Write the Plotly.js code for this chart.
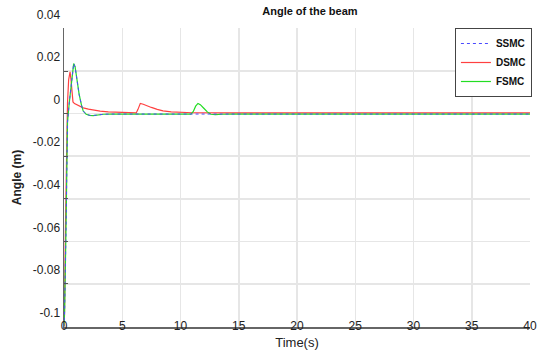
<!DOCTYPE html>
<html>
<head>
<meta charset="utf-8">
<script src="https://cdn.plot.ly/plotly-3.0.1.min.js"></script>
<style>html,body{margin:0;padding:0;background:#fff;}#chart{width:539px;height:355px;}</style>
</head>
<body>
<div id="chart"></div>
<script>
const seriesNames = ["SSMC", "DSMC", "FSMC"];

const tSSMC = [0, 0.05, 0.17, 0.3, 0.45, 0.57, 0.7, 0.83, 0.95, 1.1, 1.3, 1.5, 1.65, 1.9, 2.2, 2.5, 2.9, 3.4, 4, 10, 20, 30, 40];
const ySSMC = [-0.1, -0.093, -0.055, -0.004, 0.005, 0.012, 0.019, 0.0235, 0.022, 0.016, 0.009, 0.004, 0.0012, -0.0003, -0.0008, -0.0009, -0.0006, -0.0003, -0.0002, -0.0002, -0.0002, -0.0002, -0.0002];

const tDSMC = [0, 0.04, 0.12, 0.22, 0.3, 0.4, 0.52, 0.6, 0.7, 0.77, 0.9, 1.2, 1.65, 2.1, 2.5, 3.1, 3.8, 4.5, 5.5, 6.2, 6.35, 6.55, 6.8, 7.1, 7.5, 8.0, 8.5, 9.2, 10, 11, 15, 20, 25, 30, 35, 40];
const yDSMC = [-0.1, -0.095, -0.055, -0.015, 0.005, 0.016, 0.0196, 0.016, 0.009, 0.0055, 0.0047, 0.004, 0.0027, 0.0021, 0.0017, 0.0012, 0.0008, 0.0006, 0.0004, 0.0003, 0.002, 0.0048, 0.0044, 0.0037, 0.0029, 0.002, 0.0013, 0.0008, 0.0005, 0.0004, 0.0003, 0.0003, 0.0003, 0.0003, 0.0003, 0.0003];

const tFSMC = [0, 0.05, 0.17, 0.3, 0.45, 0.57, 0.7, 0.83, 0.95, 1.1, 1.3, 1.5, 1.65, 1.9, 2.2, 2.5, 2.9, 3.4, 4, 10.9, 11.1, 11.3, 11.5, 11.7, 12.0, 12.3, 12.6, 13.0, 13.6, 14.5, 20, 30, 40];
const yFSMC = [-0.1, -0.093, -0.055, -0.004, 0.005, 0.012, 0.019, 0.0235, 0.022, 0.016, 0.009, 0.004, 0.0012, -0.0003, -0.0008, -0.0009, -0.0006, -0.0003, -0.0002, -0.0002, 0.001, 0.0035, 0.0048, 0.0042, 0.0025, 0.0008, -0.0003, -0.0005, -0.0003, -0.0002, -0.0002, -0.0002, -0.0002];

const xTickVals = [0, 5, 10, 15, 20, 25, 30, 35, 40];
const xTickText = ["0", "5", "10", "15", "20", "25", "30", "35", "40"];
const yTickVals = [0.04, 0.02, 0, -0.02, -0.04, -0.06, -0.08, -0.1];
const yTickText = ["0.04", "0.02", "0", "-0.02", "-0.04", "-0.06", "-0.08", "-0.1"];

const traces = [
  {x: tDSMC, y: yDSMC, name: seriesNames[1], legendrank: 2, mode: "lines", line: {color: "#ff4040", width: 1.2}},
  {x: tFSMC, y: yFSMC, name: seriesNames[2], legendrank: 3, mode: "lines", line: {color: "#22dd22", width: 1.2}},
  {x: tSSMC, y: ySSMC, name: seriesNames[0], legendrank: 1, mode: "lines", line: {color: "#4a4aff", width: 1, dash: "3px,3px"}}
];

const layout = {
  width: 539, height: 355,
  margin: {l: 64, r: 8, t: 28, b: 28},
  paper_bgcolor: "#fff", plot_bgcolor: "#fff",
  font: {family: "Liberation Sans, Arial, sans-serif", color: "#222"},
  title: {text: "<b>Angle of the beam</b>", font: {size: 11, color: "#111"}, x: 0.575, xanchor: "center", xref: "container", y: 0.969, yanchor: "middle", yref: "container"},
  showlegend: true,
  legend: {
    x: 1.002, xanchor: "right", y: 1, yanchor: "top",
    bgcolor: "#fff", bordercolor: "#444", borderwidth: 1,
    font: {size: 10, color: "#111", weight: "bold"},
    itemwidth: 30, tracegroupgap: 0
  },
  xaxis: {
    range: [0, 40], tickvals: xTickVals, ticktext: xTickText,
    showgrid: true, gridcolor: "#e6e6e6", gridwidth: 1.5,
    showline: true, linecolor: "#666", linewidth: 1.5,
    zeroline: false, ticks: "", ticklabelstandoff: -13,
    tickfont: {size: 12, color: "#222"},
    title: {text: "Time(s)", font: {size: 13, color: "#222"}, standoff: 6}
  },
  yaxis: {
    range: [-0.1002, 0.0402], tickvals: yTickVals, ticktext: yTickText,
    showgrid: true, gridcolor: "#e6e6e6", gridwidth: 1.5,
    showline: true, linecolor: "#666", linewidth: 1.5,
    zeroline: false, ticks: "inside", ticklen: 4, tickcolor: "#555",
    ticklabelshift: -14,
    tickfont: {size: 12, color: "#222"},
    title: {text: "<b>Angle (m)</b>", font: {size: 12, color: "#222"}, standoff: 8}
  }
};

Plotly.newPlot("chart", traces, layout, {displayModeBar: false, staticPlot: true});
</script>
</body>
</html>
